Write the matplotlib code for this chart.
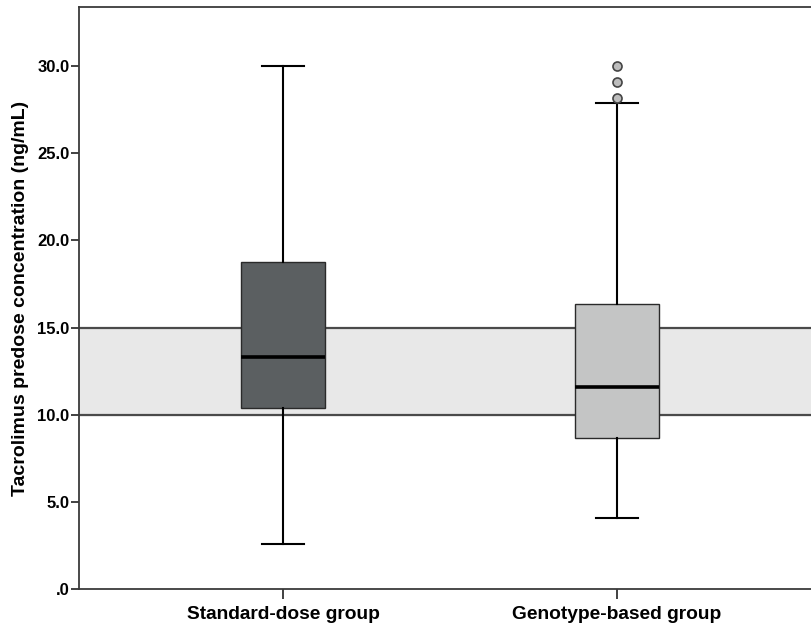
import matplotlib
matplotlib.use("Agg")
import matplotlib.pyplot as plt

plt.rcParams['font.family'] = ['Liberation Sans', 'DejaVu Sans']

categories = ["Standard-dose group", "Genotype-based group"]
whisker_low = [2.6, 4.1]
q1 = [10.4, 8.65]
median = [13.3, 11.6]
q3 = [18.75, 16.35]
whisker_high = [30.0, 27.9]
outliers = [[], [28.2, 29.1, 30.0]]
box_colors = ["#5b5f61", "#c4c5c5"]
target_low, target_high = 10.0, 15.0
yticks = [0, 5, 10, 15, 20, 25, 30]
ytick_labels = [".0", "5.0", "10.0", "15.0", "20.0", "25.0", "30.0"]
ylabel = "Tacrolimus predose concentration (ng/mL)"

fig = plt.figure(figsize=(8.12, 6.26), dpi=100)
ax = fig.add_axes([79/812, 1-589/626, 1-79/812, (589-7)/626])

ax.axhspan(target_low, target_high, color="#e8e8e8", zorder=0)
ax.axhline(target_low, color="#4a4a4a", lw=1.6, zorder=1)
ax.axhline(target_high, color="#4a4a4a", lw=1.6, zorder=1)

stats = []
for i, name in enumerate(categories):
    stats.append(dict(label=name, whislo=whisker_low[i], q1=q1[i], med=median[i],
                      q3=q3[i], whishi=whisker_high[i], fliers=outliers[i]))

positions = list(range(len(categories)))
bp = ax.bxp(stats, positions=positions, widths=0.252, patch_artist=True,
            capwidths=0.126,
            boxprops=dict(edgecolor="#2a2a2a", linewidth=1.0),
            medianprops=dict(color="black", linewidth=2.6),
            whiskerprops=dict(color="black", linewidth=1.5),
            capprops=dict(color="black", linewidth=1.5),
            flierprops=dict(marker="o", markerfacecolor="#bdbdbd",
                            markeredgecolor="#444444", markersize=6.5,
                            markeredgewidth=1.2))
for patch, c in zip(bp['boxes'], box_colors):
    patch.set_facecolor(c)
    patch.set_zorder(3)
for key in ['medians', 'whiskers', 'caps', 'fliers']:
    for a in bp[key]:
        a.set_zorder(4)

ax.set_xlim(-0.613, 1.586)
ax.set_ylim(0, 33.4)
ax.set_yticks(yticks)
ax.set_yticklabels(ytick_labels, fontsize=12, fontweight="bold")
ax.set_xticks(positions)
ax.set_xticklabels(categories, fontsize=13.8, fontweight="bold")
ax.tick_params(axis="y", length=6, width=1.3, color="#333333", pad=1)
ax.tick_params(axis="x", length=7, width=1.3, color="#333333", pad=5)
ax.set_ylabel(ylabel, fontsize=14, fontweight="bold", labelpad=6)

for s in ['left', 'bottom', 'top']:
    ax.spines[s].set_color("#3a3a3a")
    ax.spines[s].set_linewidth(1.3)
ax.spines['right'].set_visible(False)

fig.savefig("out.png", dpi=100)
